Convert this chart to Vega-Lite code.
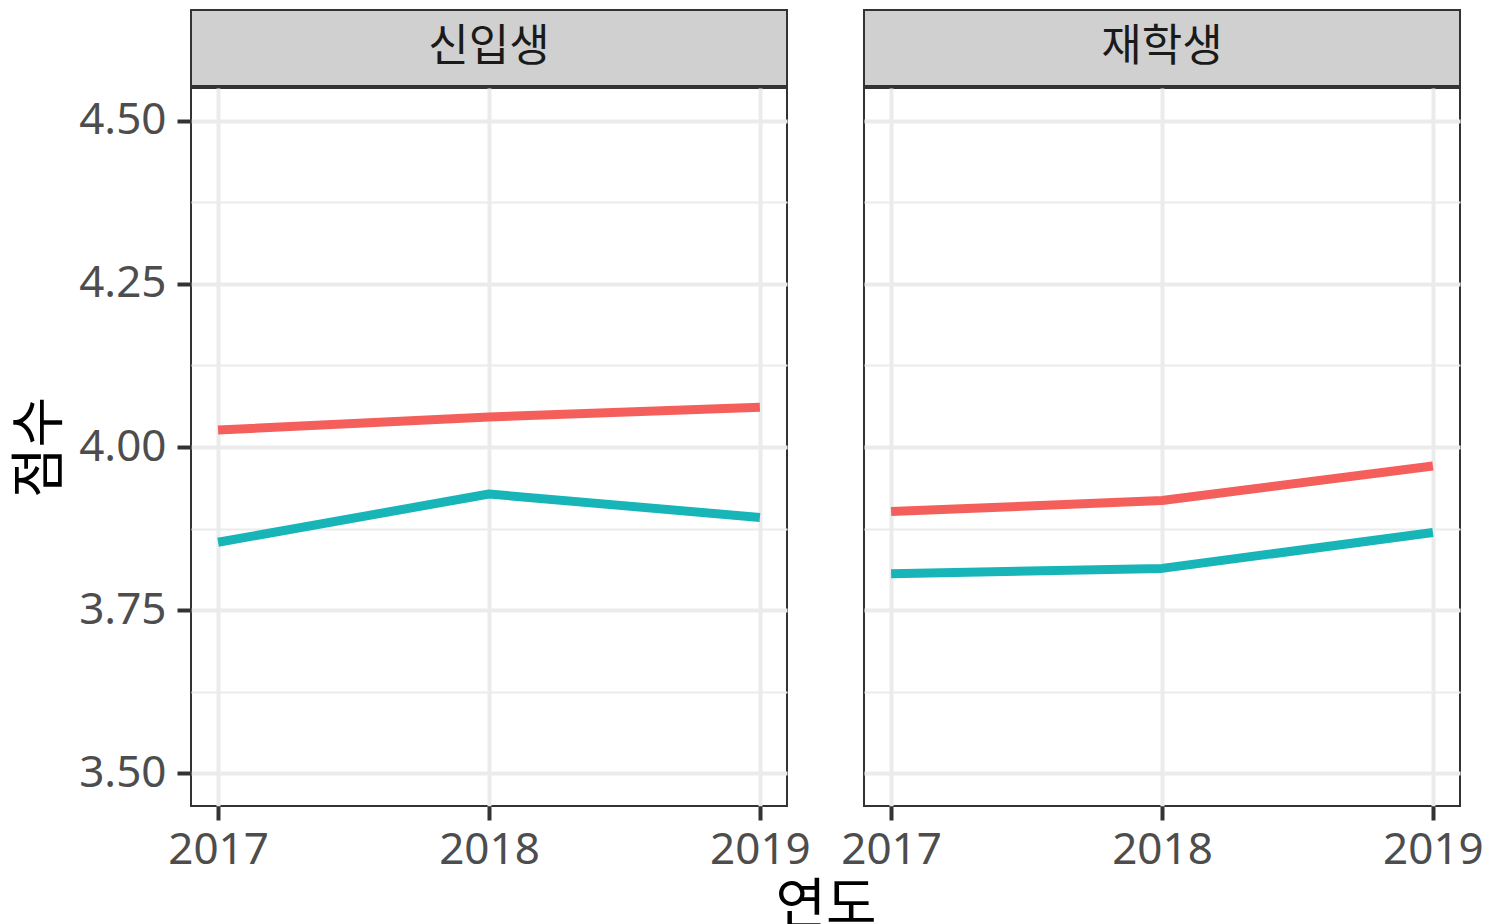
{
  "$schema": "https://vega.github.io/schema/vega-lite/v6.json",
  "padding": {"left": 11, "top": 9, "right": 6, "bottom": 0},
  "background": "white",
  "config": {
    "font": "Noto Sans, Noto Sans CJK KR",
    "view": {"stroke": "#333333", "strokeWidth": 2}
  },
  "title": {
    "text": "연도",
    "orient": "bottom",
    "anchor": "middle",
    "font": "Noto Sans CJK KR",
    "fontSize": 55,
    "fontWeight": "normal",
    "color": "#000000",
    "offset": 7,
    "dx": 78
  },
  "datasets": {
    "scores": [
      {"panel": "신입생", "year": 2017, "group": "A", "score": 4.026},
      {"panel": "신입생", "year": 2018, "group": "A", "score": 4.046},
      {"panel": "신입생", "year": 2019, "group": "A", "score": 4.061},
      {"panel": "신입생", "year": 2017, "group": "B", "score": 3.854},
      {"panel": "신입생", "year": 2018, "group": "B", "score": 3.928},
      {"panel": "신입생", "year": 2019, "group": "B", "score": 3.892},
      {"panel": "재학생", "year": 2017, "group": "A", "score": 3.901},
      {"panel": "재학생", "year": 2018, "group": "A", "score": 3.918},
      {"panel": "재학생", "year": 2019, "group": "A", "score": 3.971},
      {"panel": "재학생", "year": 2017, "group": "B", "score": 3.806},
      {"panel": "재학생", "year": 2018, "group": "B", "score": 3.814},
      {"panel": "재학생", "year": 2019, "group": "B", "score": 3.869}
    ]
  },
  "spacing": 27,
  "hconcat": [
    {
      "bounds": "flush",
      "spacing": 2,
      "vconcat": [
        {
          "data": {"name": "scores"},
          "transform": [{"filter": "datum.panel === '신입생'"}, {"aggregate": [], "groupby": ["panel"]}],
          "width": 596,
          "height": 76,
          "view": {"fill": "#D0D0D0", "stroke": "#333333", "strokeWidth": 2},
          "mark": {"type": "text", "fontSize": 44, "color": "#1A1A1A", "font": "Noto Sans CJK KR"},
          "encoding": {"text": {"field": "panel"}}
        },
        {
          "data": {"name": "scores"},
          "transform": [{"filter": "datum.panel === '신입생'"}],
          "width": 596,
          "height": 718,
          "mark": {"type": "line", "strokeWidth": 9, "strokeCap": "butt", "strokeJoin": "round"},
          "encoding": {
            "x": {
              "field": "year",
              "type": "quantitative",
              "title": null,
              "scale": {"domain": [2016.9, 2019.1], "nice": false, "zero": false},
              "axis": {
                "values": [2017, 2017.5, 2018, 2018.5, 2019],
                "format": "d",
                "labelExpr": "datum.value % 1 ? '' : datum.label",
                "labelOverlap": false,
                "labelFlush": false,
                "domain": false,
                "grid": true,
                "gridColor": "#EBEBEB",
                "gridWidth": {"condition": {"test": "datum.value % 1 !== 0", "value": 2}, "value": 4},
                "tickColor": "#333333",
                "tickSize": 14,
                "tickWidth": 4,
                "tickOpacity": {"condition": {"test": "datum.value % 1 !== 0", "value": 0}, "value": 1},
                "labelFontSize": 44,
                "labelColor": "#4D4D4D",
                "labelPadding": 8
              }
            },
            "y": {
              "field": "score",
              "type": "quantitative",
              "title": "점수",
              "scale": {"domain": [3.45, 4.55], "nice": false, "zero": false},
              "axis": {
                "values": [3.5, 3.625, 3.75, 3.875, 4, 4.125, 4.25, 4.375, 4.5],
                "format": ".2f",
                "labelExpr": "abs(datum.value * 4 - round(datum.value * 4)) > 0.01 ? '' : datum.label",
                "labelOverlap": false,
                "labelFlush": false,
                "domain": false,
                "grid": true,
                "gridColor": "#EBEBEB",
                "gridWidth": {"condition": {"test": "abs(datum.value * 4 - round(datum.value * 4)) > 0.01", "value": 2}, "value": 4},
                "tickColor": "#333333",
                "tickSize": 14,
                "tickWidth": 4,
                "tickOpacity": {"condition": {"test": "abs(datum.value * 4 - round(datum.value * 4)) > 0.01", "value": 0}, "value": 1},
                "labelFontSize": 44,
                "labelColor": "#4D4D4D",
                "labelPadding": 11,
                "titleFontSize": 55,
                "titleFontWeight": "normal",
                "titleColor": "#000000",
                "titlePadding": 10,
                "titleFont": "Noto Sans CJK KR"
              }
            },
            "color": {
              "field": "group",
              "type": "nominal",
              "scale": {"domain": ["A", "B"], "range": ["#F45F5B", "#17B5B8"]},
              "legend": null
            }
          }
        }
      ]
    },
    {
      "bounds": "flush",
      "spacing": 2,
      "vconcat": [
        {
          "data": {"name": "scores"},
          "transform": [{"filter": "datum.panel === '재학생'"}, {"aggregate": [], "groupby": ["panel"]}],
          "width": 596,
          "height": 76,
          "view": {"fill": "#D0D0D0", "stroke": "#333333", "strokeWidth": 2},
          "mark": {"type": "text", "fontSize": 44, "color": "#1A1A1A", "font": "Noto Sans CJK KR"},
          "encoding": {"text": {"field": "panel"}}
        },
        {
          "data": {"name": "scores"},
          "transform": [{"filter": "datum.panel === '재학생'"}],
          "width": 596,
          "height": 718,
          "mark": {"type": "line", "strokeWidth": 9, "strokeCap": "butt", "strokeJoin": "round"},
          "encoding": {
            "x": {
              "field": "year",
              "type": "quantitative",
              "title": null,
              "scale": {"domain": [2016.9, 2019.1], "nice": false, "zero": false},
              "axis": {
                "values": [2017, 2017.5, 2018, 2018.5, 2019],
                "format": "d",
                "labelExpr": "datum.value % 1 ? '' : datum.label",
                "labelOverlap": false,
                "labelFlush": false,
                "domain": false,
                "grid": true,
                "gridColor": "#EBEBEB",
                "gridWidth": {"condition": {"test": "datum.value % 1 !== 0", "value": 2}, "value": 4},
                "tickColor": "#333333",
                "tickSize": 14,
                "tickWidth": 4,
                "tickOpacity": {"condition": {"test": "datum.value % 1 !== 0", "value": 0}, "value": 1},
                "labelFontSize": 44,
                "labelColor": "#4D4D4D",
                "labelPadding": 8
              }
            },
            "y": {
              "field": "score",
              "type": "quantitative",
              "title": null,
              "scale": {"domain": [3.45, 4.55], "nice": false, "zero": false},
              "axis": {
                "values": [3.5, 3.625, 3.75, 3.875, 4, 4.125, 4.25, 4.375, 4.5],
                "labels": false,
                "ticks": false,
                "domain": false,
                "grid": true,
                "gridColor": "#EBEBEB",
                "gridWidth": {"condition": {"test": "abs(datum.value * 4 - round(datum.value * 4)) > 0.01", "value": 2}, "value": 4}
              }
            },
            "color": {
              "field": "group",
              "type": "nominal",
              "scale": {"domain": ["A", "B"], "range": ["#F45F5B", "#17B5B8"]},
              "legend": null
            }
          }
        }
      ]
    }
  ]
}
